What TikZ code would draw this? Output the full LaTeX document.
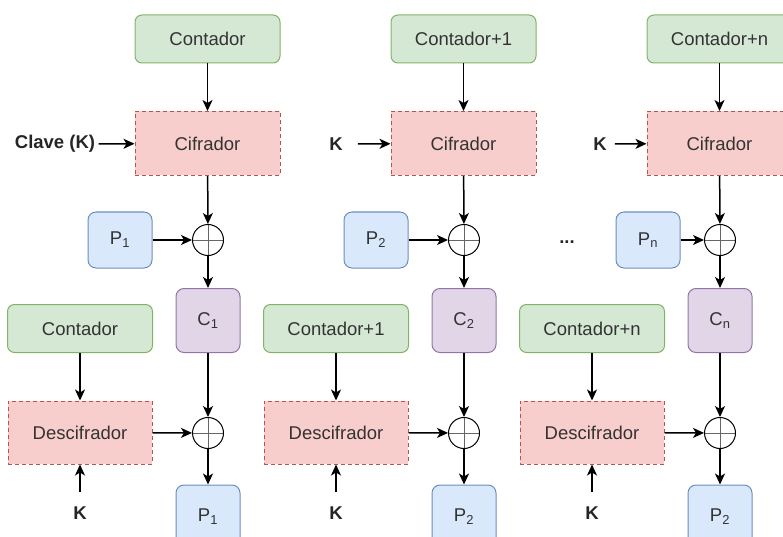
\documentclass[tikz,border=0pt]{standalone}
\usepackage{fontspec}
\setmainfont{Liberation Sans}
\usepackage{tikz}
\usetikzlibrary{arrows.meta}
\usetikzlibrary{positioning}
\definecolor{verdefill}{HTML}{D5E8D4}
\definecolor{verdeline}{HTML}{82B366}
\definecolor{rojofill}{HTML}{F8CECC}
\definecolor{rojoline}{HTML}{B85450}
\definecolor{azulfill}{HTML}{DAE8FC}
\definecolor{azulline}{HTML}{6C8EBF}
\definecolor{moradofill}{HTML}{E1D5E7}
\definecolor{moradoline}{HTML}{9673A6}
\definecolor{texto}{HTML}{333333}
\tikzstyle{line} = [draw, line width=1.5pt, -{Stealth[length=11pt,width=10pt,inset=3pt]}]
\begin{document}
\begin{tikzpicture}[x=1pt,y=-1pt,
        font=\fontsize{18.5}{22}\selectfont,
        contador/.style={draw=verdeline, fill=verdefill, line width=1pt,
            rounded corners=7pt, minimum width=145pt, minimum height=48pt, text=texto},
        cifrador/.style={draw=rojoline, fill=rojofill, line width=1pt,
            dash pattern=on 4pt off 3pt, minimum width=145pt, minimum height=64pt, text=texto},
        plano/.style={draw=azulline, fill=azulfill, line width=1pt,
            rounded corners=8pt, minimum width=64pt, minimum height=56pt, text=texto},
        cifrado/.style={draw=moradoline, fill=moradofill, line width=1pt,
            rounded corners=8pt, minimum width=64pt, minimum height=64pt, text=texto},
        xor/.style={draw, circle, line width=1pt, minimum size=31pt, inner sep=0pt,
            path picture={\draw[black!60, line width=1pt]
                (path picture bounding box.north) -- (path picture bounding box.south)
                (path picture bounding box.west) -- (path picture bounding box.east);}},
        clave/.style={font=\fontsize{18.5}{22}\selectfont\bfseries, text=black!85}]
        \useasboundingbox (0,0) rectangle (783,537);
        %% Bloque 1
        \node [contador] at (207.5,39) (Cont1) {Contador};
        \node [cifrador] at (207.5,143.5) (Cif1) {Cifrador};
        \node [clave] at (55,144) (K1) {Clave (K)};
        \node [xor] at (208,240) (XorA1) {};
        \node [plano] at (120,240) (P1) {P\textsubscript{1}};
        \node [cifrado] at (208,320.5) (C1) {C\textsubscript{1}};
        \node [contador] at (80,328.5) (ContD1) {Contador};
        \node [cifrador, minimum width=144pt, minimum height=63pt] at (80,432.5) (Des1) {Descifrador};
        \node [xor] at (208,433) (XorB1) {};
        \node [clave, inner ysep=14pt] at (80,513) (KD1) {K};
        \node [plano, minimum height=64pt] at (208,517) (PD1) {P\textsubscript{1}};
        %% Bloque 2
        \node [contador] at (463.5,39) (Cont2) {Contador+1};
        \node [cifrador] at (463.5,143.5) (Cif2) {Cifrador};
        \node [clave, inner xsep=15pt] at (336,144) (K2) {K};
        \node [xor] at (464,240) (XorA2) {};
        \node [plano] at (376,240) (P2) {P\textsubscript{2}};
        \node [cifrado] at (464,320.5) (C2) {C\textsubscript{2}};
        \node [contador] at (336,328.5) (ContD2) {Contador+1};
        \node [cifrador, minimum width=144pt, minimum height=63pt] at (336,432.5) (Des2) {Descifrador};
        \node [xor] at (464,433) (XorB2) {};
        \node [clave, inner ysep=14pt] at (336,513) (KD2) {K};
        \node [plano, minimum height=64pt] at (464,517) (PD2) {P\textsubscript{2}};
        %% Bloque n
        \node [clave] at (567,242) (Dots) {...};
        \node [contador] at (719.5,39) (Cont3) {Contador+n};
        \node [cifrador] at (719.5,143.5) (Cif3) {Cifrador};
        \node [clave, inner xsep=8pt] at (600,144) (K3) {K};
        \node [xor] at (720,240) (XorA3) {};
        \node [plano] at (648,240) (P3) {P\textsubscript{n}};
        \node [cifrado] at (720,320.5) (C3) {C\textsubscript{n}};
        \node [contador] at (592,328.5) (ContD3) {Contador+n};
        \node [cifrador, minimum width=144pt, minimum height=63pt] at (592,432.5) (Des3) {Descifrador};
        \node [xor] at (720,433) (XorB3) {};
        \node [clave, inner ysep=14pt] at (592,513) (KD3) {K};
        \node [plano, minimum height=64pt] at (720,517) (PD3) {P\textsubscript{2}};
        %% Arcos
        \path [line] (Cont1) -- (Cif1);
        \path [line] (K1) -- (Cif1);
        \path [line] (Cif1) -- (XorA1);
        \path [line] (P1) -- (XorA1);
        \path [line] (XorA1) -- (C1);
        \path [line] (C1) -- (XorB1);
        \path [line] (ContD1) -- (Des1);
        \path [line] (Des1) -- (XorB1);
        \path [line] (KD1) -- (Des1);
        \path [line] (XorB1) -- (PD1);
        \path [line] (Cont2) -- (Cif2);
        \path [line] (K2) -- (Cif2);
        \path [line] (Cif2) -- (XorA2);
        \path [line] (P2) -- (XorA2);
        \path [line] (XorA2) -- (C2);
        \path [line] (C2) -- (XorB2);
        \path [line] (ContD2) -- (Des2);
        \path [line] (Des2) -- (XorB2);
        \path [line] (KD2) -- (Des2);
        \path [line] (XorB2) -- (PD2);
        \path [line] (Cont3) -- (Cif3);
        \path [line] (K3) -- (Cif3);
        \path [line] (Cif3) -- (XorA3);
        \path [line] (P3) -- (XorA3);
        \path [line] (XorA3) -- (C3);
        \path [line] (C3) -- (XorB3);
        \path [line] (ContD3) -- (Des3);
        \path [line] (Des3) -- (XorB3);
        \path [line] (KD3) -- (Des3);
        \path [line] (XorB3) -- (PD3);
\end{tikzpicture}
\end{document}
